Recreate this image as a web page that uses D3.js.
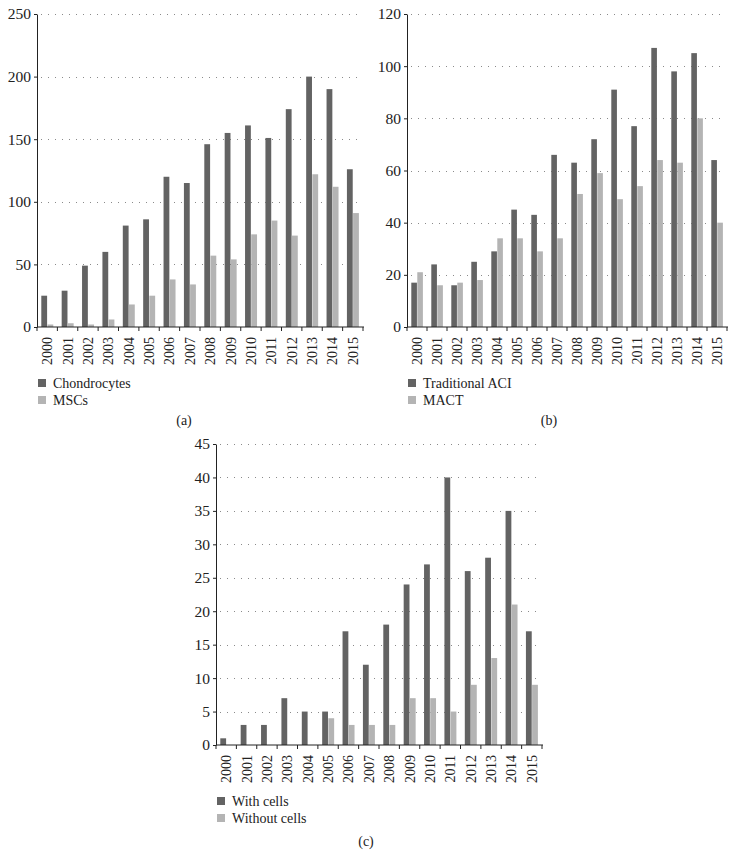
<!DOCTYPE html>
<html>
<head>
<meta charset="utf-8">
<script src="https://cdn.jsdelivr.net/npm/d3@7"></script>
<style>
  body { margin: 0; background: #fff; }
</style>
</head>
<body>
<div id="chart"></div>
<script>
var years = ["2000", "2001", "2002", "2003", "2004", "2005", "2006", "2007",
             "2008", "2009", "2010", "2011", "2012", "2013", "2014", "2015"];

// (a)
var chondrocytes = [25, 29, 49, 60, 81, 86, 120, 115, 146, 155, 161, 151, 174, 200, 190, 126];
var mscs = [2, 3, 2, 6, 18, 25, 38, 34, 57, 54, 74, 85, 73, 122, 112, 91];
var ticksA = [0, 50, 100, 150, 200, 250];

// (b)
var traditionalACI = [17, 24, 16, 25, 29, 45, 43, 66, 63, 72, 91, 77, 107, 98, 105, 64];
var mact = [21, 16, 17, 18, 34, 34, 29, 34, 51, 59, 49, 54, 64, 63, 80, 40];
var ticksB = [0, 20, 40, 60, 80, 100, 120];

// (c)
var withCells = [1, 3, 3, 7, 5, 5, 17, 12, 18, 24, 27, 40, 26, 28, 35, 17];
var withoutCells = [0, 0, 0, 0, 0, 4, 3, 3, 3, 7, 7, 5, 9, 13, 21, 9];
var ticksC = [0, 5, 10, 15, 20, 25, 30, 35, 40, 45];

var darkColor = "#636363",
    lightColor = "#b4b4b4";
var serif = "'Liberation Serif', 'Times New Roman', serif";

var svg = d3.select("#chart").append("svg")
    .attr("width", 736)
    .attr("height", 854)
    .style("font-family", serif);

var drawPanel = function (p) {
    var g = svg.append("g");

    var x = d3.scaleBand()
        .domain(years)
        .range([p.left, p.right]);

    var x1 = d3.scaleBand()
        .domain([0, 1])
        .range([4.3, x.bandwidth() - 4.1])
        .paddingInner(0.06);

    var y = d3.scaleLinear()
        .domain([0, d3.max(p.ticks)])
        .range([p.bottom, p.top]);

    // dotted grid
    g.selectAll(".grid")
        .data(p.ticks.slice(1))
        .enter().append("line")
        .attr("x1", p.left + 4)
        .attr("x2", p.right - 2)
        .attr("y1", function (d) { return Math.round(y(d)) + 0.5; })
        .attr("y2", function (d) { return Math.round(y(d)) + 0.5; })
        .attr("stroke", "#8a8a8a")
        .attr("stroke-width", 1)
        .attr("stroke-dasharray", "1,6");

    // bars
    var rows = years.map(function (yr, i) {
        return { year: yr, vals: [p.series[0][i], p.series[1][i]] };
    });
    var grp = g.selectAll(".yr")
        .data(rows)
        .enter().append("g")
        .attr("transform", function (d) { return "translate(" + x(d.year) + ",0)"; });
    grp.selectAll("rect")
        .data(function (d) { return d.vals; })
        .enter().append("rect")
        .attr("x", function (d, i) { return x1(i); })
        .attr("width", x1.bandwidth())
        .attr("y", function (d) { return y(d); })
        .attr("height", function (d) { return p.bottom - y(d); })
        .attr("fill", function (d, i) { return i == 0 ? darkColor : lightColor; });

    // y axis
    var yAxis = g.append("g")
        .attr("transform", "translate(" + p.left + ",0)")
        .call(d3.axisLeft(y).tickValues(p.ticks).tickSize(3).tickPadding(3).tickSizeOuter(0));
    yAxis.attr("font-family", null).attr("font-size", null);
    yAxis.select(".domain").attr("stroke", "#222");
    yAxis.selectAll("line").attr("stroke", "#222");
    yAxis.selectAll("text")
        .style("font-family", serif)
        .style("font-size", "15.5px")
        .attr("fill", "#222");

    // x axis: ticks at band edges
    var xAxis = g.append("g")
        .attr("transform", "translate(0," + p.bottom + ")");
    xAxis.append("line")
        .attr("x1", p.left).attr("x2", p.right + 1)
        .attr("stroke", "#222");
    xAxis.selectAll(".tk")
        .data(years.concat(["end"]))
        .enter().append("line")
        .attr("x1", function (d, i) { return p.left + i * x.step(); })
        .attr("x2", function (d, i) { return p.left + i * x.step(); })
        .attr("y1", 0).attr("y2", 4)
        .attr("stroke", "#222");
    xAxis.selectAll(".yl")
        .data(years)
        .enter().append("text")
        .attr("transform", function (d) {
            return "translate(" + (x(d) + x.bandwidth() / 2 + 5) + ",10) rotate(-90)";
        })
        .attr("text-anchor", "end")
        .attr("fill", "#222")
        .style("font-family", serif)
        .style("font-size", "14px")
        .text(function (d) { return d; });

    // legend
    var leg = g.selectAll(".leg")
        .data(p.names)
        .enter().append("g")
        .attr("transform", function (d, i) {
            return "translate(" + (p.left + 1) + "," + (p.legendTop + i * 17) + ")";
        });
    leg.append("rect")
        .attr("width", 8).attr("height", 8)
        .attr("fill", function (d, i) { return i == 0 ? darkColor : lightColor; });
    leg.append("text")
        .attr("x", 15).attr("y", 8.5)
        .attr("fill", "#222")
        .style("font-family", serif)
        .style("font-size", "14px")
        .text(function (d) { return d; });

    svg.append("text")
        .attr("x", p.capX).attr("y", p.capY)
        .attr("text-anchor", "middle")
        .attr("fill", "#222")
        .style("font-family", serif)
        .style("font-size", "14px")
        .text(p.caption);
};

drawPanel({
    series: [chondrocytes, mscs], names: ["Chondrocytes", "MSCs"], ticks: ticksA,
    left: 37, right: 363, top: 14, bottom: 327, legendTop: 379,
    caption: "(a)", capX: 184, capY: 425
});
drawPanel({
    series: [traditionalACI, mact], names: ["Traditional ACI", "MACT"], ticks: ticksB,
    left: 407, right: 727, top: 14, bottom: 327, legendTop: 379,
    caption: "(b)", capX: 549, capY: 425
});
drawPanel({
    series: [withCells, withoutCells], names: ["With cells", "Without cells"], ticks: ticksC,
    left: 216, right: 542, top: 444, bottom: 745, legendTop: 797,
    caption: "(c)", capX: 366, capY: 846
});
</script>
</body>
</html>
